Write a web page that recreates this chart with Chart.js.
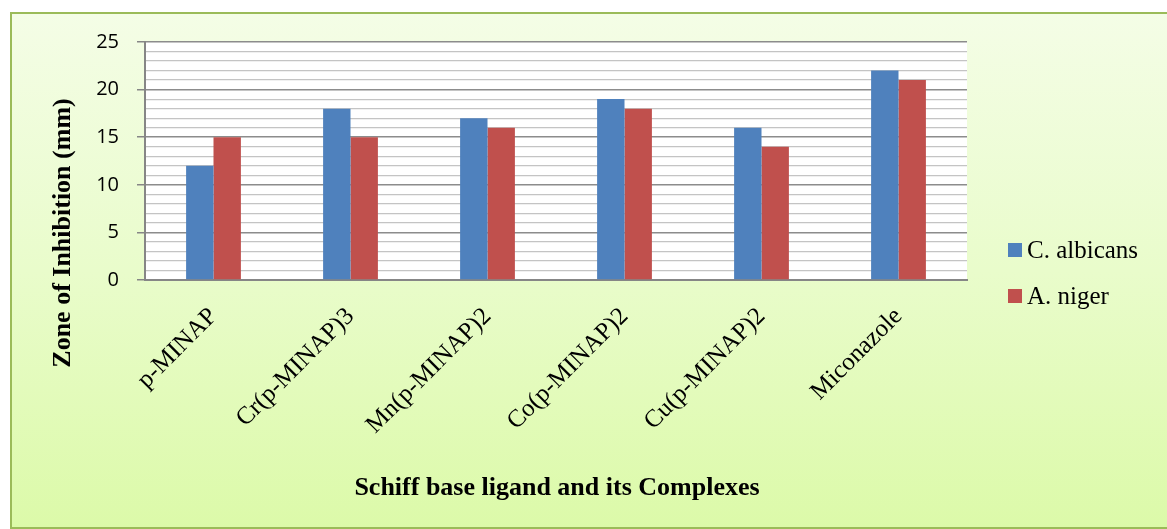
<!DOCTYPE html>
<html>
<head>
<meta charset="utf-8">
<script src="https://cdn.jsdelivr.net/npm/chart.js@4.4.1/dist/chart.umd.min.js"></script>
<style>
  html, body { margin: 0; padding: 0; background: #fff; }
  #frame {
    position: absolute; left: 10px; top: 12px; width: 1165px; height: 517px;
    border: 2px solid #9bbb59; box-sizing: border-box;
    background: linear-gradient(to bottom, #f4fde6 0%, #e9fccb 50%, #dcfaa9 100%);
  }
  #chart { position: absolute; left: 0; top: 0; }
</style>
</head>
<body>
<div id="frame"></div>
<canvas id="chart" width="1167" height="529"></canvas>
<script>
const categories = ['p-MINAP', 'Cr(p-MINAP)3', 'Mn(p-MINAP)2', 'Co(p-MINAP)2', 'Cu(p-MINAP)2', 'Miconazole'];
const albicans = [12, 18, 17, 19, 16, 22];
const niger = [15, 15, 16, 18, 14, 21];
const yTitle = 'Zone of Inhibition (mm)';
const xTitle = 'Schiff base ligand and its Complexes';

const serif = "'Liberation Serif', 'Times New Roman', serif";

// white plot area + axis titles + legend
const decor = {
  id: 'decor',
  beforeDraw(chart) {
    const { ctx, chartArea: a } = chart;
    ctx.save();
    ctx.fillStyle = '#ffffff';
    ctx.fillRect(a.left, a.top, a.right - a.left, a.bottom - a.top);
    ctx.restore();
  },
  afterDraw(chart) {
    const { ctx } = chart;
    ctx.save();
    ctx.fillStyle = '#000';
    ctx.textAlign = 'center';
    ctx.textBaseline = 'middle';
    ctx.font = 'bold 26px ' + serif;
    ctx.fillText(xTitle, 557, 488);
    ctx.translate(63, 233);
    ctx.rotate(-Math.PI / 2);
    ctx.font = 'bold 26px ' + serif;
    ctx.fillText(yTitle, 0, 0);
    ctx.restore();

    ctx.save();
    ctx.font = '25px ' + serif;
    ctx.textAlign = 'left';
    ctx.textBaseline = 'middle';
    chart.data.datasets.forEach((ds, i) => {
      const y = 250 + i * 46;
      ctx.fillStyle = ds.backgroundColor;
      ctx.fillRect(1008, y - 7, 14, 14);
      ctx.fillStyle = '#000';
      ctx.fillText(ds.label, 1027, y + 1);
    });
    ctx.restore();
  }
};

new Chart(document.getElementById('chart'), {
  type: 'bar',
  data: {
    labels: categories,
    datasets: [
      { label: 'C. albicans', data: albicans, backgroundColor: '#4f81bd' },
      { label: 'A. niger', data: niger, backgroundColor: '#c0504d' }
    ]
  },
  options: {
    responsive: false,
    animation: false,
    layout: { padding: { top: 42, right: 200, left: 0, bottom: 0 } },
    plugins: { legend: { display: false }, tooltip: { enabled: false } },
    datasets: { bar: { categoryPercentage: 0.4, barPercentage: 1 } },
    scales: {
      x: {
        grid: { display: false },
        border: { color: '#868686', width: 2 },
        ticks: {
          color: '#000',
          font: { family: serif, size: 25 },
          minRotation: 45, maxRotation: 45, padding: 14
        },
        afterFit(scale) { scale.height = 249; }
      },
      y: {
        min: 0, max: 25,
        border: { color: '#868686', width: 2 },
        grid: {
          color: c => (c.tick && c.tick.value % 5 === 0) ? '#8c8c8c' : '#c4c4c4',
          lineWidth: c => (c.tick && c.tick.value % 5 === 0) ? 1.5 : 1.2,
          tickColor: c => (c.tick && c.tick.value % 5 === 0) ? '#868686' : 'rgba(0,0,0,0)',
          tickLength: 8
        },
        ticks: {
          stepSize: 1,
          autoSkip: false,
          color: '#000',
          padding: 18,
          font: { family: "'Open Sans', 'Liberation Sans', sans-serif", size: 20 },
          callback: v => (v % 5 === 0 ? v : '')
        },
        afterFit(scale) { scale.width = 145; }
      }
    }
  },
  plugins: [decor]
});
</script>
</body>
</html>
